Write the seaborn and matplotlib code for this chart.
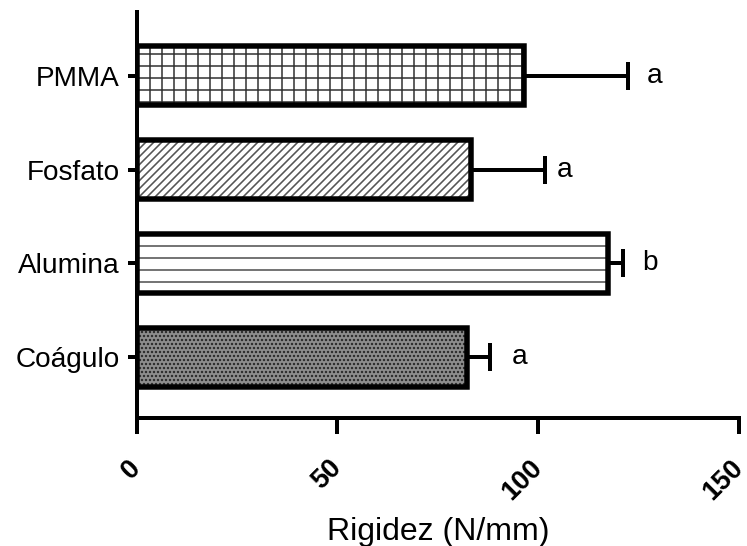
import matplotlib
matplotlib.use('Agg')
import matplotlib.pyplot as plt
import numpy as np
import pandas as pd
import seaborn as sns

groups = ['PMMA', 'Fosfato', 'Alumina', 'Coágulo']
rigidez = [96.4, 83.2, 117.5, 82.2]
sd = [25.9, 18.4, 3.5, 5.8]
letters = ['a', 'a', 'b', 'a']
xticks = [0, 50, 100, 150]

hatches = ['+', '///', '-', '...']
hatch_colors = ['#3a3a3a', '#555555', '#555555', '#222222']
face_colors = ['white', 'white', 'white', '#8e8e8e']
letter_pad = [19, 12, 20, 22]

DPI = 72
sns.set_style('ticks')
plt.rcParams['font.family'] = ['Liberation Sans', 'DejaVu Sans']
plt.rcParams['hatch.linewidth'] = 1.6
for k in ['text.color', 'axes.labelcolor', 'xtick.color', 'ytick.color', 'axes.edgecolor']:
    plt.rcParams[k] = 'black'

df = pd.DataFrame({'grupo': groups, 'rigidez': rigidez})

fig = plt.figure(figsize=(747 / DPI, 546 / DPI), dpi=DPI)
ax = fig.add_axes([136.5 / 747, 1 - 418 / 546, (739 - 136.5) / 747, (418 - 12) / 546])

# fill + hatch layer
sns.barplot(data=df, x='rigidez', y='grupo', orient='h', width=0.63,
            color='white', linewidth=0, errorbar=None, ax=ax)
for p, h, hc, fc in zip(ax.patches, hatches, hatch_colors, face_colors):
    p.set_facecolor(fc)
    p.set_edgecolor(hc)
    p.set_linewidth(0)
    p.set_hatch(h)

# outline layer
sns.barplot(data=df, x='rigidez', y='grupo', orient='h', width=0.63,
            fill=False, edgecolor='black', linewidth=5.5, errorbar=None, ax=ax)

pos = np.arange(len(groups))
ax.errorbar(rigidez, pos, xerr=[np.zeros(len(sd)), sd], fmt='none',
            ecolor='black', elinewidth=4, capsize=14, capthick=4, zorder=1)

for i, (m, s, lt) in enumerate(zip(rigidez, sd, letters)):
    ax.annotate(lt, (m + s, i), xytext=(letter_pad[i], 0), textcoords='offset points',
                ha='left', va='center', fontsize=28)

ax.set_xlim(0, 150)
ax.set_ylim(3.651, -0.683)
ax.set_xticks(xticks)
ax.set_xticklabels([str(t) for t in xticks], rotation=45, ha='right',
                   rotation_mode='anchor', va='center',
                   fontweight='bold', fontsize=27)
ax.tick_params(axis='y', labelsize=28, width=4, length=9, pad=8)
ax.tick_params(axis='x', width=4, length=16, pad=30)
ax.set_ylabel('')
ax.set_xlabel('Rigidez (N/mm)', fontsize=32, labelpad=12)
sns.despine(ax=ax)
for s in ['left', 'bottom']:
    ax.spines[s].set_linewidth(4)

fig.savefig('out.png', dpi=DPI)
